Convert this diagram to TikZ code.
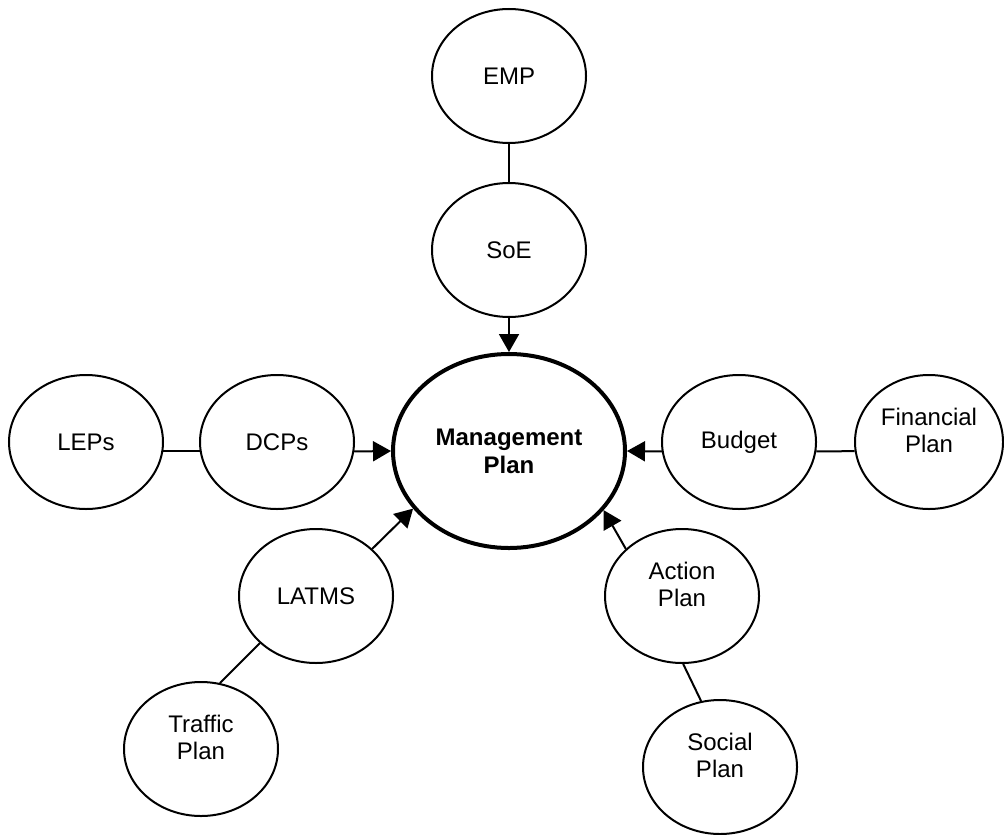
\documentclass[tikz,border=0pt]{standalone}
\usepackage{fontspec}
\setmainfont{Liberation Sans}
\usetikzlibrary{shapes.geometric,arrows.meta}

\begin{document}
\begin{tikzpicture}[x=0.5pt,y=-0.5pt,
    bub/.style={ellipse,draw,line width=1pt,inner sep=0pt,minimum width=77pt,minimum height=67pt,align=center,font=\fontsize{12}{13.5}\selectfont},
    hub/.style={bub,line width=2pt,minimum width=116pt,minimum height=97pt,font=\fontsize{12}{14}\selectfont\bfseries},
    lifted/.style={label={[align=center,font=\fontsize{12}{13.5}\selectfont,yshift=6pt]center:#1}},
    feed/.style={-{Triangle[length=9pt,width=10pt]},line width=1pt},
    tie/.style={line width=1pt}]
    \useasboundingbox (0,0) rectangle (1004,834);

    % the plan in the middle
    \node[hub] (mp) at (509,451) {Management\\Plan};

    % plans round it
    \node[bub] (emp) at (509,76) {EMP};
    \node[bub] (soe) at (509,250) {SoE};
    \node[bub] (leps) at (86,442) {LEPs};
    \node[bub] (dcps) at (277,442) {DCPs};
    \node[bub] (budget) at (739,442) {Budget};
    \node[bub,minimum width=74pt,lifted={Financial\\Plan}] (fin) at (929,442) {};
    \node[bub] (latms) at (316,596) {LATMS};
    \node[bub,lifted={Traffic\\Plan}] (traffic) at (201,749) {};
    \node[bub,lifted={Action\\Plan}] (action) at (682,596) {};
    \node[bub,lifted={Social\\Plan}] (social) at (720,767) {};

    % links
    \draw[tie] (emp) -- (soe);
    \draw[feed] (soe) -- (mp);
    \draw[tie] (leps.-7) -- (dcps.187);
    \draw[feed] (dcps.-7) -- (mp.west);
    \draw[tie] (budget.-7) -- (fin.187);
    \draw[feed] (budget.187) -- (mp.east);
    \draw[tie] (traffic.74) -- (latms.220);
    \draw[feed] (latms.40) -- (mp.211);
    \draw[tie] (action.271) -- (social.106);
    \draw[feed] (action.140) -- (mp.328);
\end{tikzpicture}
\end{document}
